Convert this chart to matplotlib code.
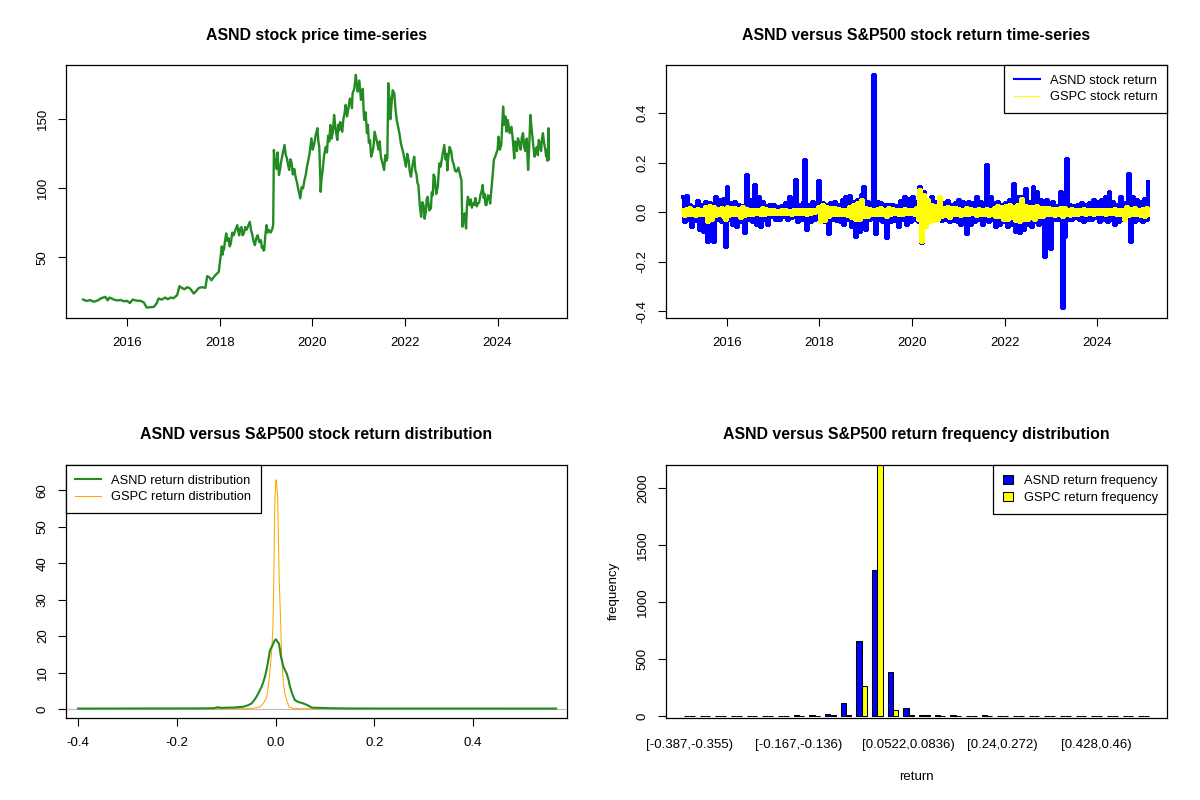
import numpy as np
import matplotlib.pyplot as plt
import matplotlib as mpl
from matplotlib.patches import Patch
from matplotlib.lines import Line2D

mpl.rcParams['font.family'] = ['Liberation Sans', 'DejaVu Sans']
mpl.rcParams['axes.linewidth'] = 0.9

## DATA

# ASND closing price, (decimal year, price)
price_year = [2015.05, 2015.12, 2015.20, 2015.28, 2015.36, 2015.44, 2015.53, 2015.58, 2015.62, 2015.71,
              2015.78, 2015.86, 2015.93, 2016.00, 2016.06, 2016.12, 2016.20, 2016.29, 2016.36, 2016.42,
              2016.50, 2016.58, 2016.64, 2016.68, 2016.75, 2016.82, 2016.88, 2016.94, 2017.00, 2017.08,
              2017.13, 2017.18, 2017.24, 2017.30, 2017.36, 2017.44, 2017.50, 2017.55, 2017.62, 2017.69,
              2017.73, 2017.78, 2017.82, 2017.90, 2017.98,
              2018.03, 2018.045, 2018.06, 2018.075, 2018.09, 2018.115, 2018.14, 2018.165, 2018.19, 2018.215,
              2018.24, 2018.27, 2018.30, 2018.34, 2018.38, 2018.40, 2018.42, 2018.445, 2018.47, 2018.495,
              2018.52, 2018.55, 2018.58, 2018.615, 2018.65, 2018.675, 2018.70, 2018.73, 2018.76, 2018.79,
              2018.82, 2018.855, 2018.89, 2018.91, 2018.93, 2018.945, 2018.96, 2018.985, 2019.01, 2019.035,
              2019.06, 2019.10, 2019.14, 2019.155, 2019.17, 2019.19, 2019.21, 2019.23, 2019.25, 2019.265,
              2019.28, 2019.305, 2019.33, 2019.365, 2019.40, 2019.425, 2019.45, 2019.475, 2019.50, 2019.525,
              2019.55, 2019.58, 2019.61, 2019.64, 2019.67, 2019.705, 2019.74, 2019.77, 2019.80, 2019.83,
              2019.86, 2019.88, 2019.90, 2019.94, 2019.98, 2020.01, 2020.04, 2020.075, 2020.11, 2020.13,
              2020.15, 2020.165, 2020.18, 2020.20, 2020.22, 2020.255, 2020.29, 2020.315, 2020.34, 2020.365,
              2020.39, 2020.415, 2020.44, 2020.455, 2020.47, 2020.505, 2020.54, 2020.56, 2020.58, 2020.60,
              2020.62, 2020.645, 2020.67, 2020.695, 2020.72, 2020.75, 2020.78, 2020.81, 2020.84, 2020.855,
              2020.87, 2020.905, 2020.94, 2020.96, 2020.98, 2021.015, 2021.05, 2021.07, 2021.09, 2021.105,
              2021.12, 2021.15, 2021.18, 2021.20, 2021.22, 2021.245, 2021.27, 2021.295, 2021.32, 2021.345,
              2021.37, 2021.40, 2021.43, 2021.455, 2021.48, 2021.515, 2021.55, 2021.575, 2021.60, 2021.62,
              2021.64, 2021.655, 2021.67, 2021.685, 2021.70, 2021.735, 2021.77, 2021.795, 2021.82, 2021.85,
              2021.88, 2021.915, 2021.95, 2021.985, 2022.02, 2022.05, 2022.08, 2022.105, 2022.13, 2022.165,
              2022.20, 2022.225, 2022.25, 2022.27, 2022.29, 2022.32, 2022.35, 2022.375, 2022.40, 2022.425,
              2022.45, 2022.47, 2022.49, 2022.525, 2022.56, 2022.58, 2022.60, 2022.62, 2022.64, 2022.675,
              2022.71, 2022.74, 2022.77, 2022.81, 2022.85, 2022.875, 2022.90, 2022.915, 2022.93, 2022.965,
              2023.00, 2023.025, 2023.05, 2023.08, 2023.11, 2023.155, 2023.20, 2023.22, 2023.24, 2023.265,
              2023.29, 2023.305, 2023.32, 2023.34, 2023.36, 2023.39, 2023.42, 2023.445, 2023.47, 2023.495,
              2023.52, 2023.55, 2023.58, 2023.605, 2023.63, 2023.655, 2023.68, 2023.70, 2023.72, 2023.74,
              2023.76, 2023.79, 2023.82, 2023.84, 2023.86, 2023.89, 2023.92, 2023.96, 2024.00, 2024.01,
              2024.02, 2024.05, 2024.08, 2024.10, 2024.12, 2024.145, 2024.17, 2024.195, 2024.22, 2024.26,
              2024.30, 2024.33, 2024.36, 2024.38, 2024.40, 2024.42, 2024.44, 2024.47, 2024.50, 2024.525,
              2024.55, 2024.575, 2024.60, 2024.63, 2024.66, 2024.685, 2024.71, 2024.73, 2024.75, 2024.775,
              2024.80, 2024.825, 2024.85, 2024.87, 2024.89, 2024.915, 2024.94, 2024.96, 2024.98, 2025.00,
              2025.02, 2025.035, 2025.05, 2025.065, 2025.08, 2025.09, 2025.10, 2025.11]
price_value = [19.6, 18.5, 19.2, 18.0, 18.8, 20.5, 21.5, 19.0, 21.0, 19.6,
               18.9, 19.2, 18.3, 18.6, 17.0, 19.5, 18.8, 18.6, 17.5, 13.8,
               14.0, 14.3, 17.0, 20.3, 19.5, 21.0, 19.8, 21.0, 20.5, 22.7,
               29.2, 28.0, 27.0, 28.5, 27.5, 23.9, 26.0, 28.0, 28.5, 28.0,
               36.5, 35.5, 33.5, 37.0, 39.6,
               54.0, 58.0, 52.0, 56.0, 55.7, 62.0, 67.4, 62.0, 64.0, 58.0,
               60.1, 68.0, 66.0, 70.0, 73.4, 69.0, 66.0, 71.0, 72.0, 66.0,
               67.4, 72.0, 70.0, 73.0, 75.8, 70.0, 67.0, 62.0, 58.9, 64.0,
               66.0, 61.0, 62.5, 57.0, 58.0, 55.0, 55.3, 66.0, 73.4, 68.0,
               70.0, 68.0, 71.0, 74.0, 127.8, 118.0, 121.0, 114.0, 126.0, 116.0,
               109.6, 114.0, 120.0, 126.0, 131.4, 124.0, 122.0, 117.0, 113.3, 121.0,
               119.0, 110.0, 114.0, 108.0, 104.0, 98.0, 92.8, 101.0, 100.0, 106.0,
               110.0, 115.0, 118.0, 125.0, 136.2, 128.0, 132.0, 139.0, 143.5, 134.0,
               130.0, 115.0, 97.5, 108.0, 112.0, 124.0, 130.0, 126.0, 138.0, 134.0,
               145.9, 136.0, 140.0, 146.0, 153.1, 142.0, 135.0, 146.0, 142.0, 148.0,
               146.6, 141.0, 150.0, 154.0, 160.4, 152.0, 158.0, 165.0, 163.0, 158.0,
               168.8, 172.0, 182.1, 175.0, 170.0, 178.0, 164.0, 167.0, 172.0, 158.0,
               149.5, 155.0, 140.0, 146.0, 133.0, 135.0, 122.9, 126.0, 130.0, 141.0,
               137.4, 133.0, 128.0, 134.0, 122.9, 118.0, 113.3, 124.0, 120.0, 122.0,
               176.1, 168.0, 165.0, 150.0, 156.7, 171.0, 168.8, 158.0, 150.0, 145.0,
               139.9, 132.0, 127.8, 122.0, 115.7, 125.0, 120.0, 112.0, 108.4, 117.0,
               122.9, 113.0, 110.0, 104.0, 102.4, 88.0, 79.4, 90.0, 88.0, 78.0,
               83.0, 92.0, 93.9, 84.0, 85.5, 97.0, 95.0, 110.0, 108.4, 96.0,
               101.2, 118.0, 115.7, 124.0, 131.4, 121.0, 125.0, 113.0, 120.5, 130.0,
               126.5, 120.0, 118.0, 113.0, 112.0, 115.0, 108.4, 106.0, 72.2, 79.0,
               81.9, 75.0, 71.0, 88.0, 93.9, 88.0, 92.0, 86.0, 89.1, 88.0,
               93.0, 87.0, 89.1, 90.0, 95.0, 98.0, 102.4, 93.0, 96.0, 88.0,
               87.9, 95.0, 94.0, 89.0, 96.4, 108.0, 120.5, 124.0, 128.0, 133.0,
               137.4, 128.0, 131.4, 145.0, 159.1, 146.0, 152.0, 141.0, 149.5, 140.0,
               144.6, 135.0, 121.7, 134.0, 132.0, 127.0, 136.2, 133.0, 128.0, 137.0,
               139.9, 130.0, 127.0, 136.0, 113.3, 132.0, 153.1, 145.0, 138.0, 130.0,
               122.9, 128.0, 130.0, 124.0, 135.0, 132.0, 127.0, 136.0, 139.9, 134.0,
               130.0, 127.0, 122.9, 128.0, 120.0, 126.0, 143.5, 121.0]

# period covered by the return series
ret_start, ret_end = 2015.05, 2025.10

# ASND daily return (sampled)
asnd_ret = [0.06, -0.04, 0.065, -0.03, 0.03, -0.06, 0.02, -0.035, 0.045, -0.07,
            0.03, -0.08, 0.04, -0.12, 0.035, -0.05, -0.12, 0.06, -0.03, 0.05,
            -0.04, 0.055, -0.14, 0.10, -0.03, 0.035, -0.05, 0.04, -0.06, 0.03,
            -0.04, 0.025, -0.085, 0.15, -0.03, 0.05, -0.04, 0.11, -0.05, 0.06,
            -0.06, 0.04, -0.03, 0.025, -0.05, 0.03, -0.02, 0.03, -0.03, 0.02,
            -0.03, 0.025, -0.02, 0.035, -0.03, 0.06, -0.025, 0.03, 0.13, -0.04,
            0.03, -0.03, 0.04, 0.21, -0.07, 0.03, -0.04, 0.04, -0.03, 0.025,
            0.125, -0.03, 0.035, -0.04, 0.03, -0.09, 0.035, -0.03, 0.04, -0.035,
            0.03, -0.04, 0.05, -0.05, 0.06, -0.03, 0.065, -0.06, 0.04, -0.10,
            0.05, -0.08, 0.07, 0.10, -0.07, 0.04, -0.03, 0.035, 0.555, -0.09,
            0.04, -0.03, 0.035, -0.04, 0.03, -0.105, 0.03, -0.04, 0.03, -0.035,
            0.025, -0.06, 0.045, -0.03, 0.06, -0.05, 0.055, -0.04, 0.06, -0.03,
            0.04, -0.04, 0.10, -0.125, 0.08, -0.06, 0.05, -0.04, 0.06, -0.03,
            0.04, -0.03, 0.03, -0.035, 0.035, -0.03, 0.045, -0.04, 0.03, -0.035,
            0.035, -0.04, 0.05, -0.05, 0.04, -0.03, -0.09, 0.04, -0.05, 0.035,
            -0.04, 0.06, -0.03, 0.04, -0.05, 0.035, 0.19, -0.04, 0.06, -0.03,
            0.035, -0.06, 0.04, -0.05, 0.03, -0.04, 0.035, -0.06, 0.05, -0.05,
            0.115, -0.08, 0.06, -0.085, 0.06, -0.07, 0.095, -0.05, 0.04, -0.06,
            0.10, -0.04, 0.08, -0.05, 0.05, -0.03, -0.18, 0.05, -0.04, -0.15,
            0.04, -0.03, 0.025, -0.03, 0.08, -0.387, -0.10, 0.215, -0.03, 0.03,
            -0.03, 0.025, -0.025, 0.03, -0.03, 0.035, -0.04, 0.03, -0.03, 0.035,
            -0.03, 0.05, -0.025, 0.04, -0.04, 0.05, -0.03, 0.06, -0.04, 0.08,
            -0.03, 0.04, -0.05, 0.03, -0.04, 0.06, -0.03, 0.035, -0.02, 0.155,
            -0.12, 0.06, -0.04, 0.05, -0.03, 0.04, -0.04, 0.055, -0.03, 0.12]

# S&P500 (GSPC) daily return (sampled)
gspc_ret = [0.01, -0.015, 0.012, -0.01, 0.015, -0.012, 0.01, -0.014, 0.012, -0.01,
            0.008, -0.012, 0.02, -0.04, 0.025, -0.03, 0.02, -0.015, 0.012, -0.01,
            0.015, -0.02, -0.03, 0.02, -0.015, 0.018, -0.012, 0.015, -0.01, 0.012,
            -0.025, 0.02, -0.015, 0.012, -0.01, 0.008, -0.012, 0.01, -0.008, 0.01,
            -0.012, 0.015, -0.01, 0.012, -0.008, 0.01, -0.006, 0.008, -0.007, 0.006,
            -0.008, 0.007, -0.006, 0.01, -0.008, 0.006, -0.012, 0.008, -0.006, 0.007,
            -0.008, 0.01, -0.006, 0.008, -0.01, 0.007, -0.006, 0.008, -0.005, 0.01,
            0.02, -0.04, 0.03, -0.035, 0.02, -0.02, 0.015, -0.012, 0.015, -0.01,
            0.012, -0.01, 0.008, -0.012, 0.01, -0.015, 0.02, -0.025, 0.03, -0.03,
            0.035, -0.03, 0.05, -0.02, 0.015, -0.018, 0.012, -0.01, 0.01, -0.012,
            0.012, -0.01, 0.015, -0.012, 0.01, -0.02, 0.015, -0.01, 0.012, -0.008,
            0.01, -0.012, 0.008, -0.01, 0.012, -0.008, 0.01, -0.007, 0.008, -0.01,
            0.015, -0.03, 0.09, -0.12, 0.07, -0.06, 0.05, -0.04, 0.03, -0.035,
            0.025, -0.03, 0.06, -0.02, 0.015, -0.015, 0.02, -0.025, 0.015, -0.012,
            0.015, -0.012, 0.012, -0.015, 0.01, -0.012, 0.015, -0.01, 0.012, -0.008,
            0.01, -0.015, 0.012, -0.01, 0.008, -0.01, 0.012, -0.015, 0.01, -0.012,
            0.015, -0.02, 0.025, -0.02, 0.02, -0.03, 0.025, -0.03, 0.03, -0.025,
            0.02, -0.035, 0.03, -0.04, 0.055, -0.03, 0.025, -0.03, 0.02, -0.025,
            0.02, -0.03, 0.025, -0.02, 0.015, -0.02, 0.015, -0.012, 0.015, -0.01,
            0.012, -0.015, 0.012, -0.01, 0.015, -0.02, 0.018, -0.012, 0.01, -0.015,
            0.012, -0.01, 0.008, -0.012, 0.01, -0.008, 0.012, -0.01, 0.008, -0.006,
            0.01, -0.012, 0.008, -0.006, 0.01, -0.008, 0.007, -0.01, 0.008, -0.006,
            0.01, -0.008, 0.012, -0.01, 0.008, -0.012, 0.01, -0.03, 0.02, -0.015,
            0.012, -0.01, 0.015, -0.012, 0.01, -0.015, 0.012, -0.02, 0.015, -0.01]

# kernel density estimates of the returns
asnd_dens_x = [-0.400, -0.150, -0.125, -0.118, -0.110, -0.100, -0.083, -0.066, -0.056, -0.049,
               -0.044, -0.039, -0.034, -0.0285, -0.025, -0.0217, -0.019, -0.016, -0.0135, -0.0115,
               -0.008, -0.0047, -0.002, 0.0007, 0.003, 0.0067, 0.0108, 0.0135, 0.0156, 0.019,
               0.0224, 0.026, 0.029, 0.034, 0.039, 0.046, 0.053, 0.060, 0.065, 0.070,
               0.074, 0.087, 0.100, 0.110, 0.155, 0.568]
asnd_dens_y = [0.1, 0.15, 0.2, 0.45, 0.3, 0.35, 0.4, 0.6, 1.0, 1.5,
               2.3, 3.3, 4.6, 6.1, 7.4, 8.8, 10.5, 12.5, 14.5, 16.1,
               17.0, 18.0, 18.8, 19.1, 18.6, 17.9, 14.3, 12.8, 11.6, 10.6,
               9.7, 8.0, 6.1, 4.0, 2.4, 1.9, 1.65, 1.3, 1.0, 0.6,
               0.35, 0.3, 0.25, 0.2, 0.12, 0.1]
gspc_dens_x = [-0.130, -0.080, -0.060, -0.049, -0.040, -0.032, -0.025, -0.018, -0.0145, -0.0115,
               -0.008, -0.0055, -0.004, -0.0027, -0.0015, 0.0, 0.001, 0.0025, 0.004, 0.0067,
               0.0085, 0.0102, 0.0122, 0.0156, 0.019, 0.0224, 0.027, 0.036, 0.050, 0.090]
gspc_dens_y = [0.0, 0.05, 0.1, 0.15, 0.3, 0.55, 1.5, 3.3, 6.5, 10.6,
               16.0, 22.6, 33.0, 47.4, 57.0, 62.0, 62.9, 61.0, 58.3, 38.2,
               30.0, 23.5, 14.3, 7.0, 4.0, 2.4, 0.55, 0.1, 0.05, 0.0]

# return frequency per bin (30 bins of width ~0.0314 from -0.387)
asnd_counts = [1, 0, 0, 0, 0, 0, 2, 6, 6, 15, 110, 657, 1280, 387, 73,
               12, 8, 8, 0, 5, 0, 0, 0, 0, 0, 0, 0, 0, 0, 1]
gspc_counts = [0, 0, 0, 0, 0, 0, 0, 0, 1, 5, 6, 267, 2210, 55, 5,
               5, 3, 0, 0, 0, 0, 0, 0, 0, 0, 0, 0, 0, 0, 0]
bin_label_index = [0, 7, 14, 20, 26]
bin_labels = ['[-0.387,-0.355)', '[-0.167,-0.136)', '[0.0522,0.0836)', '[0.24,0.272)', '[0.428,0.46)']

year_ticks = [2016, 2018, 2020, 2022, 2024]

## STYLE

TITLE_FS = 11.4
TICK_FS = 9.5
LEGEND_FS = 9.3
GREEN = '#228B22'
GRAY = '#BEBEBE'


def style_axes(ax):
	ax.tick_params('both', direction='out', length=6, width=0.8, labelsize=TICK_FS, pad=6)
	ax.tick_params(axis='x', pad=8)
	ax.tick_params(axis='y', labelrotation=90)
	for lab in ax.get_yticklabels():
		lab.set_va('center')
	for sp in ax.spines.values():
		sp.set_linewidth(0.9)


def set_title(ax, text):
	ax.set_title(text, fontsize=TITLE_FS, fontweight='bold', pad=18.5)


def r_legend(ax, handles, labels, loc, handlelength=2.0, handleheight=0.7):
	leg = ax.legend(handles, labels, loc=loc, fontsize=LEGEND_FS, frameon=True, fancybox=False,
					borderaxespad=0, framealpha=1, edgecolor='black', handlelength=handlelength,
					handleheight=handleheight, handletextpad=0.8, borderpad=0.75, labelspacing=0.35)
	leg.get_frame().set_linewidth(0.9)
	return leg


def main() -> None:
	fig = plt.figure(figsize=(12, 8), dpi=100)
	left_x, right_x, w = 0.0546, 0.5546, 0.4183
	top_y, bot_y, h = 0.6025, 0.1029, 0.316

	## top-left: price
	ax1 = fig.add_axes([left_x, top_y, w, h])
	ax1.plot(price_year, price_value, color=GREEN, lw=1.7)
	ax1.set_xlim(2014.67, 2025.51)
	ax1.set_ylim(6.2, 189.1)
	ax1.set_xticks(year_ticks)
	ax1.set_yticks([50, 100, 150])
	set_title(ax1, 'ASND stock price time-series')
	style_axes(ax1)

	## top-right: returns (dense daily series, drawn without antialiasing so the band stays solid)
	ax2 = fig.add_axes([right_x, top_y, w, h])
	ret_year = np.linspace(ret_start, ret_end, len(asnd_ret))
	ax2.plot(ret_year, asnd_ret, color='blue', lw=1.6, drawstyle='steps-mid', antialiased=False)
	ax2.plot(ret_year, gspc_ret, color='yellow', lw=1.6, drawstyle='steps-mid', antialiased=False)
	ax2.set_xlim(2014.68, 2025.51)
	ax2.set_ylim(-0.427, 0.593)
	ax2.set_xticks(year_ticks)
	ax2.set_yticks([-0.4, -0.2, 0.0, 0.2, 0.4])
	ax2.set_yticklabels(['-0.4', '-0.2', '0.0', '0.2', '0.4'])
	set_title(ax2, 'ASND versus S&P500 stock return time-series')
	style_axes(ax2)
	r_legend(ax2, [Line2D([], [], color='blue', lw=1.5), Line2D([], [], color='yellow', lw=0.75)],
			 ['ASND stock return', 'GSPC stock return'], 'upper right')

	## bottom-left: density
	ax3 = fig.add_axes([left_x, bot_y, w, h])
	ax3.axhline(0, color=GRAY, lw=0.8)
	ax3.plot(gspc_dens_x, gspc_dens_y, color='orange', lw=0.75)
	ax3.plot(asnd_dens_x, asnd_dens_y, color=GREEN, lw=1.5)
	ax3.set_xlim(-0.4256, 0.591)
	ax3.set_ylim(-2.4, 67.0)
	ax3.set_xticks([-0.4, -0.2, 0.0, 0.2, 0.4])
	ax3.set_xticklabels(['-0.4', '-0.2', '0.0', '0.2', '0.4'])
	ax3.set_yticks([0, 10, 20, 30, 40, 50, 60])
	set_title(ax3, 'ASND versus S&P500 stock return distribution')
	style_axes(ax3)
	r_legend(ax3, [Line2D([], [], color=GREEN, lw=1.5), Line2D([], [], color='orange', lw=0.75)],
			 ['ASND return distribution', 'GSPC return distribution'], 'upper left')

	## bottom-right: histogram bars (R barplot beside=TRUE layout)
	ax4 = fig.add_axes([right_x, bot_y, w, h])
	groups = np.arange(len(asnd_counts))
	left_pos = 1 + 3 * groups
	ax4.bar(left_pos + 0.5, asnd_counts, width=1, color='blue', edgecolor='black', lw=0.75)
	ax4.bar(left_pos + 1.5, gspc_counts, width=1, color='yellow', edgecolor='black', lw=0.75)
	ax4.set_xlim(1 - 3.56, 90 + 3.56)
	ax4.set_ylim(-15, 2204)
	ax4.set_yticks([0, 500, 1000, 1500, 2000])
	ax4.set_xticks([2 + 3 * i for i in bin_label_index])
	ax4.set_xticklabels(bin_labels)
	set_title(ax4, 'ASND versus S&P500 return frequency distribution')
	style_axes(ax4)
	ax4.tick_params(axis='x', length=0, pad=15)
	ax4.set_xlabel('return', fontsize=TICK_FS, labelpad=15)
	ax4.set_ylabel('frequency', fontsize=TICK_FS, labelpad=12)
	r_legend(ax4, [Patch(facecolor='blue', edgecolor='black', lw=0.75),
				   Patch(facecolor='yellow', edgecolor='black', lw=0.75)],
			 ['ASND return frequency', 'GSPC return frequency'], 'upper right',
			 handlelength=0.8, handleheight=0.8)

	plt.savefig('out.png', dpi=100)


if __name__ == '__main__':
	main()
